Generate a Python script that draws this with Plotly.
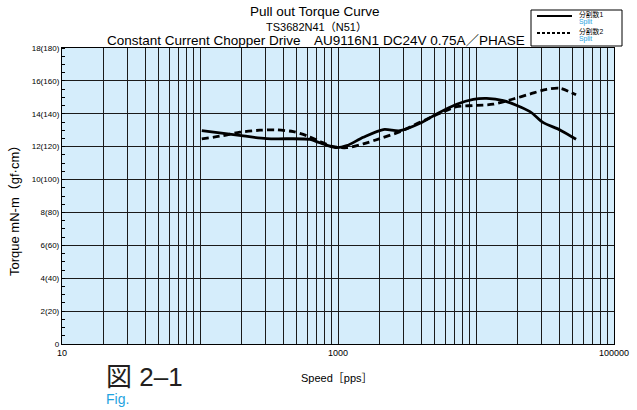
import plotly.graph_objects as go

# ---- data ----
speed_split1 = [103, 206, 304, 627, 701, 829, 979, 1157, 1525, 2130, 2812, 3926,
                5188, 7244, 9555, 11940, 15770, 24600, 30740, 40600, 53100]
torque_split1 = [12.97, 12.65, 12.49, 12.45, 12.31, 12.09, 11.94, 12.06, 12.57, 13.04, 12.97, 13.42,
                 13.99, 14.58, 14.88, 14.94, 14.80, 14.13, 13.46, 13.02, 12.45]

speed_split2 = [103, 147, 195, 272, 359, 475, 593, 741, 925, 1157, 1525, 2014,
                2812, 3926, 5480, 7244, 9555, 13330, 18620, 24600, 32500, 40600, 53100]
torque_split2 = [12.47, 12.67, 12.88, 13.00, 13.02, 12.91, 12.67, 12.31, 12.00, 11.94, 12.17, 12.49,
                 12.91, 13.48, 14.03, 14.43, 14.50, 14.58, 14.90, 15.20, 15.49, 15.55, 15.15]

y_tick_vals = [0, 2, 4, 6, 8, 10, 12, 14, 16, 18]
y_tick_text = ["0", "2(20)", "4(40)", "6(60)", "8(80)", "10(100)", "12(120)",
               "14(140)", "16(160)", "18(180)"]
x_label_vals = [10, 1000, 100000]
x_label_text = ["10", "1000", "100000"]
legend_names = ["分割数1", "分割数2"]
legend_sub = ["Split", "Split"]

# ---- build log grid ticks ----
x_grid_vals = []
for d in [10, 100, 1000, 10000]:
    for m in range(1, 10):
        x_grid_vals.append(m * d)
x_grid_vals.append(100000)
x_grid_text = [x_label_text[x_label_vals.index(v)] if v in x_label_vals else "" for v in x_grid_vals]

FONT = "Liberation Sans, Arial, Noto Sans CJK JP, sans-serif"
BLUE = "#1fa3e0"
W, H = 637, 410
L, R, T, B = 62, 614, 48, 344


def px(x):
    return (x - L) / (R - L)


def py(y):
    return (B - y) / (B - T)


fig = go.Figure()
fig.add_trace(go.Scatter(
    x=speed_split1, y=torque_split1, mode="lines",
    line=dict(color="black", width=2.8, shape="spline", smoothing=0.8),
    name=legend_names[0], showlegend=False,
))
fig.add_trace(go.Scatter(
    x=speed_split2, y=torque_split2, mode="lines",
    line=dict(color="black", width=2.8, shape="spline", smoothing=0.8, dash="7px,4px"),
    name=legend_names[1], showlegend=False,
))

fig.update_xaxes(
    type="log", range=[1, 5], automargin=False,
    tickvals=x_grid_vals, ticktext=x_grid_text,
    showgrid=True, gridcolor="#1a1a1a", gridwidth=1,
    showline=True, linecolor="black", linewidth=1.2, mirror=True,
    ticks="", tickfont=dict(size=9, color="black", family=FONT),
    zeroline=False,
)
fig.update_yaxes(
    range=[0, 18], automargin=False,
    tickvals=y_tick_vals, ticktext=y_tick_text,
    showgrid=True, gridcolor="#1a1a1a", gridwidth=1,
    showline=True, linecolor="black", linewidth=1.2, mirror=True,
    ticks="", tickfont=dict(size=8, color="black", family=FONT),
    minor=dict(dtick=0.5, ticks="inside", ticklen=3, tickcolor="black", showgrid=False),
    zeroline=False,
)

annotations = [
    dict(text="Pull out Torque Curve", x=315, y=12, font=dict(size=13.5), xa="center"),
    dict(text="TS3682N41（N51）", x=316, y=27, font=dict(size=11), xa="center"),
    dict(text="Constant Current Chopper Drive　AU9116N1 DC24V 0.75A／PHASE", x=316, y=40,
         font=dict(size=13.5), xa="center"),
    dict(text="Speed［pps］", x=337, y=378, font=dict(size=11), xa="center"),
    dict(text="図 2–1", x=104, y=377, font=dict(size=26, color="#231f20"), xa="left"),
    dict(text="Fig.", x=104, y=399, font=dict(size=14, color=BLUE), xa="left"),
    # legend texts
    dict(text=legend_names[0], x=577, y=14.5, font=dict(size=6.8), xa="left"),
    dict(text=legend_sub[0], x=577, y=21.5, font=dict(size=6.8, color=BLUE), xa="left"),
    dict(text=legend_names[1], x=577, y=31.5, font=dict(size=6.8), xa="left"),
    dict(text=legend_sub[1], x=577, y=38.5, font=dict(size=6.8, color=BLUE), xa="left"),
]
ann_objs = []
for a in annotations:
    f = dict(family=FONT, color="black")
    f.update(a["font"])
    ann_objs.append(dict(
        text=a["text"], xref="paper", yref="paper",
        x=px(a["x"]), y=py(a["y"]),
        xanchor=a["xa"], yanchor="middle", showarrow=False, font=f,
    ))
ann_objs.append(dict(
    text="Torque mN-m（gf·cm）", xref="paper", yref="paper",
    x=px(14), y=py(208), textangle=-90,
    xanchor="center", yanchor="middle", showarrow=False,
    font=dict(family=FONT, size=13, color="black"),
))

shapes = [
    # legend box
    dict(type="rect", xref="paper", yref="paper", x0=px(531), x1=px(622), y0=py(10), y1=py(46),
         line=dict(color="black", width=1), fillcolor="white", layer="above"),
    dict(type="line", xref="paper", yref="paper", x0=px(537), x1=px(572), y0=py(16), y1=py(16),
         line=dict(color="black", width=2.2), layer="above"),
    dict(type="line", xref="paper", yref="paper", x0=px(537), x1=px(572), y0=py(33), y1=py(33),
         line=dict(color="black", width=2.2, dash="3px,2px"), layer="above"),
]

fig.update_layout(
    width=W, height=H,
    margin=dict(l=L, r=W - R, t=T, b=H - B, autoexpand=False),
    paper_bgcolor="white", plot_bgcolor="#d5edfb",
    font=dict(family=FONT, color="black"),
    showlegend=False,
    annotations=ann_objs,
    shapes=shapes,
)

fig.write_html(
    "out.html",
    config={"displayModeBar": False},
    post_script="document.body.style.margin='0';document.body.style.overflow='hidden';",
)
